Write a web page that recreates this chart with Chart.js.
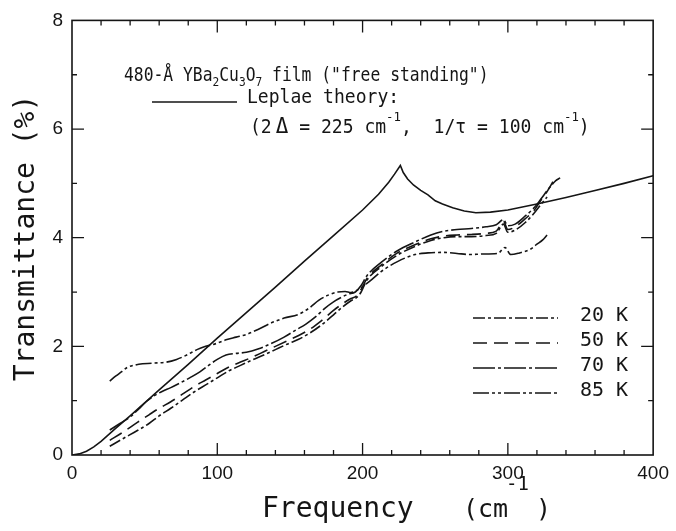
<!DOCTYPE html>
<html>
<head>
<meta charset="utf-8">
<script src="https://cdn.jsdelivr.net/npm/chart.js@4.4.1/dist/chart.umd.min.js"></script>
<style>
  html, body { margin: 0; padding: 0; background: #fff; }
</style>
</head>
<body>
<canvas id="chart" width="676" height="531"></canvas>
<script>
// Leplae theory curve
const theoryFreq  = [0, 5, 10, 15, 20, 30, 40, 60, 80, 100, 120, 140, 160, 180, 200, 211, 218, 222, 226, 228, 231, 235, 240, 245, 250, 255, 262, 270, 278, 288, 300, 320, 340, 360, 380, 400];
const theoryTrans = [0, 0.02, 0.07, 0.15, 0.25, 0.49, 0.72, 1.2, 1.67, 2.15, 2.62, 3.09, 3.57, 4.04, 4.51, 4.8, 5.02, 5.17, 5.33, 5.2, 5.08, 4.97, 4.87, 4.79, 4.68, 4.62, 4.55, 4.49, 4.46, 4.47, 4.51, 4.62, 4.74, 4.87, 5.0, 5.14];

// measured spectra
const freq20  = [26, 35, 45, 53, 60, 68, 76, 84, 92, 100, 108, 116, 124, 132, 140, 148, 156, 164, 172, 180, 186, 192, 196, 199, 203, 213, 224, 236, 247, 256, 265, 275, 285, 292, 297, 300, 305, 312, 318, 323, 327];
const trans20 = [0.16, 0.3, 0.45, 0.58, 0.72, 0.86, 1.01, 1.16, 1.29, 1.42, 1.55, 1.65, 1.75, 1.84, 1.94, 2.04, 2.13, 2.25, 2.4, 2.58, 2.72, 2.84, 2.9, 3.0, 3.22, 3.47, 3.68, 3.84, 3.95, 4.0, 4.02, 4.02, 4.04, 4.08, 4.25, 4.1, 4.14, 4.28, 4.45, 4.62, 4.75];

const freq50  = [26, 35, 45, 53, 60, 68, 76, 84, 92, 100, 108, 116, 124, 132, 140, 148, 156, 164, 172, 180, 186, 192, 196, 199, 203, 213, 224, 236, 247, 256, 265, 275, 285, 292, 297, 300, 305, 312, 318, 323, 327, 331];
const trans50 = [0.27, 0.42, 0.6, 0.74, 0.86, 0.98, 1.12, 1.26, 1.38, 1.5, 1.62, 1.71, 1.8, 1.9, 2.0, 2.1, 2.2, 2.32, 2.48, 2.66, 2.78, 2.88, 2.93, 3.05, 3.25, 3.5, 3.72, 3.87, 3.98, 4.03, 4.05, 4.06, 4.08, 4.12, 4.3, 4.15, 4.2, 4.35, 4.5, 4.7, 4.85, 5.03];

const freq70  = [26, 33, 40, 46, 51, 56, 62, 68, 74, 81, 88, 94, 100, 106, 113, 120, 128, 137, 146, 154, 161, 168, 174, 180, 186, 190, 195, 199, 203, 213, 224, 236, 247, 256, 265, 275, 285, 292, 297, 300, 305, 312, 318, 323, 328, 333, 336];
const trans70 = [0.46, 0.58, 0.7, 0.85, 0.98, 1.08, 1.17, 1.24, 1.32, 1.42, 1.53, 1.65, 1.76, 1.84, 1.87, 1.89, 1.95, 2.05, 2.17, 2.3, 2.41, 2.55, 2.7, 2.82, 2.91, 2.96, 3.0, 3.12, 3.3, 3.55, 3.76, 3.92, 4.05, 4.12, 4.15, 4.17, 4.2, 4.24, 4.33, 4.22, 4.25, 4.4, 4.55, 4.72, 4.9, 5.05, 5.1];

const freq85  = [26, 30, 34, 38, 46, 55, 65, 72, 79, 86, 92, 99, 106, 113, 120, 128, 137, 146, 156, 163, 170, 177, 183, 188, 192, 196, 200, 205, 213, 224, 236, 245, 256, 265, 274, 283, 293, 298, 302, 308, 315, 320, 324, 327];
const trans85 = [1.36, 1.45, 1.53, 1.61, 1.67, 1.69, 1.71, 1.76, 1.84, 1.94, 2.0, 2.05, 2.12, 2.17, 2.22, 2.31, 2.43, 2.52, 2.59, 2.7, 2.85, 2.95, 3.0, 3.01, 2.99, 3.03, 3.1, 3.2, 3.38, 3.56, 3.69, 3.72, 3.73, 3.71, 3.69, 3.7, 3.71, 3.82, 3.69, 3.72, 3.78, 3.88, 3.96, 4.05];

const tempLabels = ['20 K', '50 K', '70 K', '85 K'];
const xTickStep = 100, yTickStep = 2;

const ink = '#151515';
const mono = '"DejaVu Sans Mono", monospace';

function pts(xs, ys) { return xs.map((x, i) => ({ x: x, y: ys[i] })); }

function series(label, xs, ys, dash) {
  return {
    label: label, data: pts(xs, ys), showLine: true, pointRadius: 0,
    borderColor: ink, borderWidth: 1.6, borderDash: dash,
    cubicInterpolationMode: 'monotone'
  };
}

// draws a row of text pieces, [text, size, dy, dx]
function runs(ctx, x, y, parts, sx) {
  let cx = x;
  parts.forEach(p => {
    ctx.save();
    ctx.font = p[1] + 'px ' + mono;
    ctx.translate(cx + (p[3] || 0), y + (p[2] || 0));
    ctx.scale(sx, 1);
    ctx.fillText(p[0], 0, 0);
    cx += (p[3] || 0) + ctx.measureText(p[0]).width * sx;
    ctx.restore();
  });
}

const decor = {
  id: 'decor',
  afterDraw(chart) {
    const ctx = chart.ctx, a = chart.chartArea;
    const xs = chart.scales.x, ys = chart.scales.y;
    ctx.save();
    ctx.strokeStyle = ink; ctx.fillStyle = ink;
    ctx.lineWidth = 1.6;
    ctx.strokeRect(a.left, a.top, a.right - a.left, a.bottom - a.top);

    // inward ticks on all four sides
    ctx.lineWidth = 1.3;
    ctx.beginPath();
    for (let v = 20; v < 400; v += 20) {
      const px = xs.getPixelForValue(v);
      const len = v % 100 === 0 ? 12 : 5;
      ctx.moveTo(px, a.bottom); ctx.lineTo(px, a.bottom - len);
      ctx.moveTo(px, a.top); ctx.lineTo(px, a.top + len);
    }
    for (let v = 1; v < 8; v++) {
      const py = ys.getPixelForValue(v);
      const len = v % 2 === 0 ? 12 : 5;
      ctx.moveTo(a.left, py); ctx.lineTo(a.left + len, py);
      ctx.moveTo(a.right, py); ctx.lineTo(a.right - len, py);
    }
    ctx.stroke();

    // axis titles
    ctx.textAlign = 'left';
    ctx.textBaseline = 'alphabetic';
    runs(ctx, 262, 517, [['Frequency', 28]], 1);
    runs(ctx, 463, 517, [['(cm', 25]], 1);
    runs(ctx, 506, 490, [['-1', 19]], 1);
    runs(ctx, 536, 517, [[')', 25]], 1);

    ctx.save();
    ctx.translate(34, 238);
    ctx.rotate(-Math.PI / 2);
    ctx.font = '28px ' + mono;
    ctx.textAlign = 'center';
    ctx.fillText('Transmittance (%)', 0, 0);
    ctx.restore();

    // annotations
    runs(ctx, 124, 81, [
      ['480-Å YBa', 19], ['2', 13, 5], ['Cu', 19], ['3', 13, 5], ['O', 19], ['7', 13, 5],
      [' film ("free standing")', 19]
    ], 0.86);

    ctx.lineWidth = 1.6;
    ctx.setLineDash([]);
    ctx.beginPath(); ctx.moveTo(152, 102); ctx.lineTo(237, 102); ctx.stroke();
    runs(ctx, 247, 103, [['Leplae theory:', 19]], 0.95);
    runs(ctx, 250, 133, [
      ['(2', 19], ['Δ', 22, 0, 4], [' = 225 cm', 19], ['-1', 13, -12], [',  1/', 19],
      ['τ', 19], [' = 100 cm', 19], ['-1', 13, -12], [')', 19]
    ], 0.95);

    // legend for the measured spectra
    const rows = [318, 343, 368, 393];
    chart.data.datasets.slice(1).forEach((ds, i) => {
      ctx.setLineDash(ds.borderDash);
      ctx.lineWidth = 1.6;
      ctx.beginPath(); ctx.moveTo(473, rows[i]); ctx.lineTo(558, rows[i]); ctx.stroke();
      ctx.setLineDash([]);
      runs(ctx, 580, rows[i] + 3, [[ds.label, 20]], 1);
    });
    ctx.restore();
  }
};

new Chart(document.getElementById('chart'), {
  type: 'scatter',
  data: {
    datasets: [
      { label: 'Leplae theory', data: pts(theoryFreq, theoryTrans), showLine: true, pointRadius: 0,
        borderColor: ink, borderWidth: 1.6, tension: 0 },
      series(tempLabels[0], freq20, trans20, [12, 3, 3, 3]),
      series(tempLabels[1], freq50, trans50, [14, 7]),
      series(tempLabels[2], freq70, trans70, [22, 3, 3, 3]),
      series(tempLabels[3], freq85, trans85, [16, 3, 3, 3, 3, 3])
    ]
  },
  options: {
    responsive: false,
    animation: false,
    devicePixelRatio: 1,
    layout: { padding: { top: 17, right: 19, left: 0, bottom: 0 } },
    plugins: { legend: { display: false }, tooltip: { enabled: false } },
    scales: {
      x: {
        type: 'linear', min: 0, max: 400,
        ticks: { stepSize: xTickStep, padding: 7, maxRotation: 0, color: ink,
                 font: { family: '"Liberation Sans", Arial, sans-serif', size: 19 } },
        grid: { display: false, drawTicks: false },
        border: { display: false },
        afterFit(s) { s.height = 76; }
      },
      y: {
        min: 0, max: 8,
        ticks: { stepSize: yTickStep, padding: 9, color: ink,
                 font: { family: '"Liberation Sans", Arial, sans-serif', size: 19 } },
        grid: { display: false, drawTicks: false },
        border: { display: false },
        afterFit(s) { s.width = 72; }
      }
    }
  },
  plugins: [decor]
});
</script>
</body>
</html>
